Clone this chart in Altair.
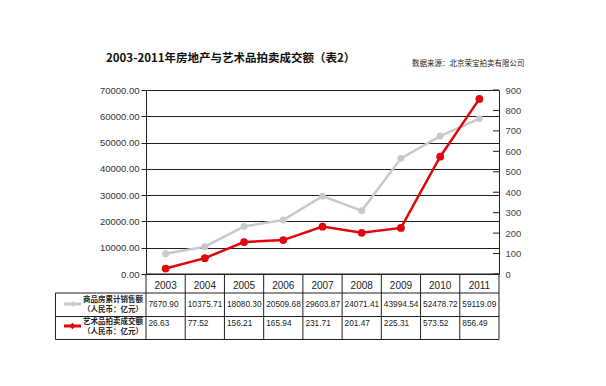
import altair as alt
import pandas as pd

# ---------------- data ----------------
years = [2003, 2004, 2005, 2006, 2007, 2008, 2009, 2010, 2011]
housing = [7670.90, 10375.71, 18080.30, 20509.68, 29603.87, 24071.41, 43994.54, 52478.72, 59119.09]
art = [26.63, 77.52, 156.21, 165.94, 231.71, 201.47, 225.31, 573.52, 856.49]
left_ticks = [0, 10000, 20000, 30000, 40000, 50000, 60000, 70000]
right_ticks = [0, 100, 200, 300, 400, 500, 600, 700, 800, 900]
title_text = "2003-2011年房地产与艺术品拍卖成交额（表2）"
source_text = "数据来源：北京荣宝拍卖有限公司"
row1_label = ["商品房累计销售额", "（人民币：亿元）"]
row2_label = ["艺术品拍卖成交额", "（人民币：亿元）"]

# ---------------- style ----------------
W, H = 353, 184
GRAY = "#c9c9cd"
RED = "#e0060b"
INK = "#231f20"
FONT = "Liberation Sans"
CJK = "Noto Sans CJK SC"

df = pd.DataFrame({
    "year": years,
    "housing": housing,
    "art": art,
    "h_label": [f"{v:.2f}" for v in housing],
    "a_label": [f"{v:.2f}" for v in art],
})
bounds = pd.DataFrame({"b": [y - 0.5 for y in years] + [years[-1] + 0.5]})
one = pd.DataFrame({"d": [0]})

xscale = alt.Scale(domain=[years[0] - 0.5, years[-1] + 0.5], nice=False, zero=False)
xenc = alt.X("year:Q", scale=xscale, axis=None)

left_axis = alt.Axis(orient="left", values=left_ticks, format=".2f", grid=True,
                     gridColor=INK, gridWidth=1, gridOpacity=1, domainColor=INK,
                     tickColor=INK, tickSize=5, labelFont=FONT, labelFontSize=9.5,
                     labelColor="#333333", labelPadding=2, title=None)
right_axis = alt.Axis(orient="right", values=right_ticks, format="d", grid=False,
                      ticks=False, domainColor=INK, labelFont=FONT, labelFontSize=9.5,
                      labelColor="#444444", labelPadding=6, title=None)

gray_y = alt.Y("housing:Q", scale=alt.Scale(domain=[0, 70000], nice=False), axis=left_axis)
red_scale = alt.Scale(domain=[0, 900], nice=False)

base = alt.Chart(df)
gray_group = alt.layer(
    base.mark_line(color=GRAY, strokeWidth=2.5).encode(x=xenc, y=gray_y),
    base.mark_circle(color=GRAY, size=48, opacity=1).encode(x=xenc, y=gray_y),
)

red_group = alt.layer(
    alt.Chart(pd.DataFrame({"art": right_ticks})).mark_rule(color=INK, strokeWidth=1).encode(
        y=alt.Y("art:Q", scale=red_scale, axis=right_axis),
        x=alt.value(W - 6), x2=alt.value(W)),
    base.mark_line(color=RED, strokeWidth=2.5).encode(
        x=xenc, y=alt.Y("art:Q", scale=red_scale, axis=right_axis)),
    base.mark_circle(color=RED, size=60, opacity=1).encode(
        x=xenc, y=alt.Y("art:Q", scale=red_scale, axis=right_axis)),
)

def hrule(y, x1, x2):
    return alt.Chart(one).mark_rule(color=INK, strokeWidth=1).encode(
        x=alt.value(x1), x2=alt.value(x2), y=alt.value(y))

table_lines = [
    hrule(H, 0, W),
    hrule(203, -90.5, W),
    hrule(226.5, -90.5, W),
    hrule(249.5, -90.5, W),
    alt.Chart(one).mark_rule(color=INK, strokeWidth=1).encode(
        x=alt.value(-90.5), y=alt.value(203), y2=alt.value(249.5)),
    alt.Chart(bounds).mark_rule(color=INK, strokeWidth=1).encode(
        x=alt.X("b:Q", scale=xscale, axis=None), y=alt.value(H), y2=alt.value(249.5)),
]

step = W / len(years)
year_text = base.mark_text(font=FONT, fontSize=10, color="#222222", baseline="middle").encode(
    x=xenc, y=alt.value(196), text=alt.Text("year:Q", format="d"))
h_text = base.mark_text(font=FONT, fontSize=8.3, color="#222222", align="left",
                        baseline="middle", dx=-step / 2 + 2.5).encode(
    x=xenc, y=alt.value(215), text="h_label:N")
a_text = base.mark_text(font=FONT, fontSize=8.3, color="#222222", align="left",
                        baseline="middle", dx=-step / 2 + 2.5).encode(
    x=xenc, y=alt.value(234), text="a_label:N")

def label(txt, y):
    return alt.Chart(one).mark_text(font=CJK, fontSize=7.5, fontWeight="bold",
                                    color="#222222", baseline="middle").encode(
        x=alt.value(-33), y=alt.value(y), text=alt.value(txt))

labels = [label(row1_label[0], 210), label(row1_label[1], 220),
          label(row2_label[0], 232), label(row2_label[1], 242)]

def legend_sym(color, y, size):
    return [
        alt.Chart(one).mark_rule(color=color, strokeWidth=3).encode(
            x=alt.value(-82), x2=alt.value(-65), y=alt.value(y)),
        alt.Chart(one).mark_point(color=color, filled=True, shape="diamond", size=size, opacity=1).encode(
            x=alt.value(-73.5), y=alt.value(y)),
    ]

syms = legend_sym(GRAY, 214, 30) + legend_sym(RED, 236, 40)

title = alt.Chart(one).mark_text(font=CJK, fontSize=11.5, fontWeight="bold", color="#111111",
                                 align="left", baseline="middle").encode(
    x=alt.value(-40), y=alt.value(-30.6), text=alt.value(title_text))
source = alt.Chart(one).mark_text(font=CJK, fontSize=7.5, color="#222222",
                                  align="left", baseline="middle").encode(
    x=alt.value(266), y=alt.value(-26), text=alt.value(source_text))

chart = alt.layer(
    gray_group, red_group, *table_lines, year_text, h_text, a_text, *labels, *syms, title, source
).resolve_scale(y="independent").properties(
    width=W, height=H,
    autosize=alt.AutoSizeParams(type="none"),
    padding={"left": 138, "top": 82, "right": 99, "bottom": 104},
).configure_view(stroke=None).configure(background="white")

chart.save("out.html", embed_options={"renderer": "svg", "actions": False})
